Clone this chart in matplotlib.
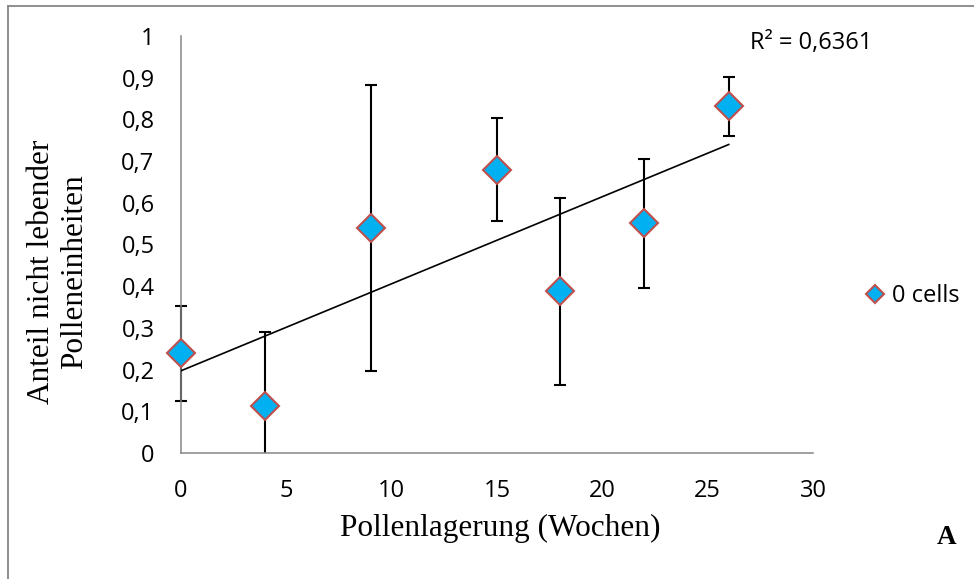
import matplotlib
matplotlib.use("Agg")
import matplotlib.pyplot as plt
import numpy as np
from matplotlib.lines import Line2D
from matplotlib.patches import Rectangle

# storage time (weeks) and share of non-viable pollen units
weeks      = [0, 4, 9, 15, 18, 22, 26]
share      = [0.240, 0.113, 0.539, 0.679, 0.388, 0.551, 0.832]
err_top    = [0.353, 0.289, 0.883, 0.803, 0.612, 0.705, 0.902]
err_bottom = [0.125, -0.065, 0.197, 0.557, 0.163, 0.396, 0.761]

x_ticks = [0, 5, 10, 15, 20, 25, 30]
y_ticks = [0, 0.1, 0.2, 0.3, 0.4, 0.5, 0.6, 0.7, 0.8, 0.9, 1]
r2_text = "R² = 0,6361"
series_label = "0 cells"

W, H = 974, 579
SANS  = "Open Sans"
SERIF = "Liberation Serif"
GREY  = "#868686"

fig = plt.figure(figsize=(W / 100, H / 100), dpi=100)
ax = fig.add_axes([181 / W, 1 - 453 / H, (813 - 181) / W, (453 - 36) / H])

x = np.array(weeks, dtype=float)
y = np.array(share)
lo = y - np.array(err_bottom)
hi = np.array(err_top) - y

eb = ax.errorbar(x, y, yerr=[lo, hi], fmt="none", ecolor="black",
                 elinewidth=1.5, capsize=4.3, capthick=1.5, zorder=2)
# clip only below the x axis, let caps hang over the left spine
clip = Rectangle((-0.05, 0), 1.1, 1.1, transform=ax.transAxes)
for art in list(eb.lines[1]) + list(eb.lines[2]):
    art.set_clip_path(clip)

slope, icpt = np.polyfit(x, y, 1)
xt = np.array([x.min(), x.max()])
ax.plot(xt, slope * xt + icpt, color="black", lw=1.2, zorder=3)

ax.plot(x, y, ls="none", marker="D", ms=14, mfc="#00B0F0", mec="#C0504D",
        mew=1.5, clip_on=False, zorder=5, label=series_label)

ax.set_xlim(0, 30)
ax.set_ylim(0, 1)
ax.set_xticks(x_ticks)
ax.set_yticks(y_ticks)
ax.set_xticklabels([str(t) for t in x_ticks], fontfamily=SANS, fontsize=17)
ax.set_yticklabels([f"{t:g}".replace(".", ",") for t in y_ticks],
                   fontfamily=SANS, fontsize=17)
ax.tick_params(length=0, pad=19)
for s in ("top", "right"):
    ax.spines[s].set_visible(False)
for s in ("left", "bottom"):
    ax.spines[s].set_color(GREY)
    ax.spines[s].set_linewidth(1.1)

fig.text(500 / W, 1 - 528 / H, "Pollenlagerung (Wochen)", ha="center",
         va="center", fontfamily=SERIF, fontsize=22.5)
fig.text(58 / W, 1 - 272 / H, "Anteil nicht lebender\nPolleneinheiten",
         ha="center", va="center", rotation=90, fontfamily=SERIF,
         fontsize=22.5, linespacing=1.15)
fig.text(750 / W, 1 - 43 / H, r2_text, ha="left", va="center",
         fontfamily=SANS, fontsize=17)
fig.text(947 / W, 1 - 537 / H, "A", ha="center", va="center",
         fontfamily=SERIF, fontsize=19.5, fontweight="bold")

leg = ax.legend(loc="center left", bbox_to_anchor=(866 / W, 1 - 296 / H),
                bbox_transform=fig.transFigure, frameon=False,
                prop={"family": SANS, "size": 17}, handlelength=0.8,
                handletextpad=0.3, borderpad=0, borderaxespad=0,
                markerscale=0.62)

# outer chart frame (left and top edges visible)
fig.add_artist(Line2D([8 / W, 8 / W], [0, 1 - 6 / H], color=GREY, lw=1.3))
fig.add_artist(Line2D([8 / W, 1], [1 - 6 / H, 1 - 6 / H], color=GREY, lw=1.3))

fig.savefig("out.png", dpi=100)
